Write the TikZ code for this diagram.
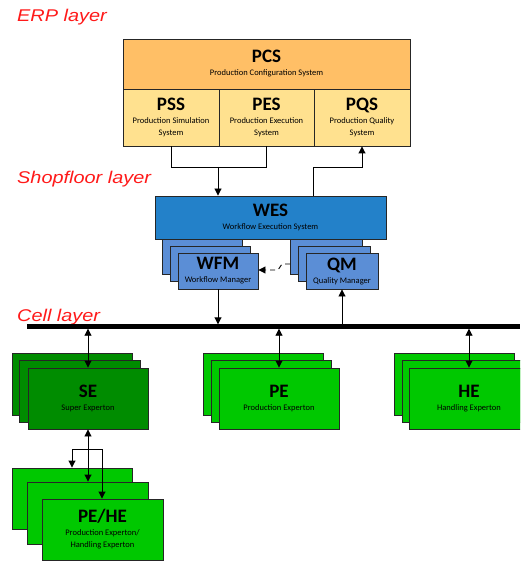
\documentclass[tikz,border=0pt]{standalone}
\usepackage{fontspec}
\setmainfont{Carlito}
\newfontfamily\layerfont[FakeStretch=1.17]{Liberation Sans}
\usetikzlibrary{arrows.meta}
\definecolor{pcsC}{HTML}{FFBF66}
\definecolor{pssC}{HTML}{FFE18F}
\definecolor{wesC}{HTML}{2381C9}
\definecolor{subC}{HTML}{5B8ED6}
\definecolor{seC}{HTML}{008C00}
\definecolor{peC}{HTML}{00C800}
\definecolor{layerC}{HTML}{FF1A1A}
\tikzset{
  box/.style={draw=black!85, line width=0.9pt, inner sep=0pt, align=center, rectangle},
  layerlbl/.style={anchor=base west, inner sep=0pt, text=layerC, font=\layerfont\itshape\fontsize{17}{19}\selectfont},
  conn/.style={draw=black, line width=0.9pt},
  arr/.style={conn, -{Triangle[length=7pt,width=7pt]}},
  darr/.style={conn, {Triangle[length=7pt,width=7pt]}-{Triangle[length=7pt,width=7pt]}},
  bus/.style={draw=black, line width=4.5pt},
}
\newcommand{\ttl}[1]{{\fontsize{19}{20}\selectfont\bfseries #1}}
\newcommand{\sub}[1]{{\fontsize{8.5}{9.5}\selectfont #1}}
\begin{document}
\begin{tikzpicture}[x=1pt, y=-1pt]
\clip (0,0) rectangle (520,561);
\fill[white] (0,0) rectangle (520,561);
% layer labels
\node[layerlbl] (erp) at (17,22) {ERP layer};
\node[layerlbl] (shop) at (17,184) {Shopfloor layer};
\node[layerlbl] (cell) at (17,321) {Cell layer};
% ERP boxes
\node[box, fill=pcsC, minimum width=287pt, minimum height=50pt] (pcs) at (266.5,64) {\ttl{PCS}\\[1pt]\sub{Production Configuration System}};
\node[box, fill=pssC, minimum width=96pt, minimum height=57pt] (pss) at (171,117.5) {\ttl{PSS}\\[1pt]\sub{Production Simulation}\\\sub{System}};
\node[box, fill=pssC, minimum width=95pt, minimum height=57pt] (pes) at (266.5,117.5) {\ttl{PES}\\[1pt]\sub{Production Execution}\\\sub{System}};
\node[box, fill=pssC, minimum width=96pt, minimum height=57pt] (pqs) at (362,117.5) {\ttl{PQS}\\[1pt]\sub{Production Quality}\\\sub{System}};
% WES
\node[box, fill=wesC, minimum width=231pt, minimum height=43pt] (wes) at (270.5,217.5) {\ttl{WES}\\[1pt]\sub{Workflow Execution System}};
% WFM stack
\node[box, fill=subC, minimum width=80pt, minimum height=35pt] (wfm3) at (202,256.5) {};
\node[box, fill=subC, minimum width=80pt, minimum height=35pt] (wfm2) at (210,263.5) {};
\node[box, fill=subC, minimum width=80pt, minimum height=36pt] (wfm) at (218,271) {\ttl{WFM}\\[1pt]\sub{Workflow Manager}};
% QM stack
\node[box, fill=subC, minimum width=72pt, minimum height=35pt] (qm3) at (326,256.5) {};
\node[box, fill=subC, minimum width=72pt, minimum height=35pt] (qm2) at (334,263.5) {};
\node[box, fill=subC, minimum width=72pt, minimum height=36pt] (qm) at (342,271) {\ttl{QM}\\[1pt]\sub{Quality Manager}};
% bus
\coordinate (busL) at (27,326.5);
\coordinate (busR) at (520,326.5);
\draw[bus] (busL) -- (busR);
% SE stack
\node[box, fill=seC, minimum width=120pt, minimum height=62pt] (se3) at (72,384) {};
\node[box, fill=seC, minimum width=121pt, minimum height=62pt] (se2) at (79.5,391) {};
\node[box, fill=seC, minimum width=120pt, minimum height=61pt] (se) at (88,398.5) {\ttl{SE}\\[1pt]\sub{Super Experton}};
% PE stack
\node[box, fill=peC, minimum width=120pt, minimum height=62pt] (pe3) at (263,384) {};
\node[box, fill=peC, minimum width=120pt, minimum height=62pt] (pe2) at (271,391) {};
\node[box, fill=peC, minimum width=120pt, minimum height=61pt] (pe) at (279,398.5) {\ttl{PE}\\[1pt]\sub{Production Experton}};
% HE stack
\node[box, fill=peC, minimum width=120pt, minimum height=62pt] (he3) at (454,384) {};
\node[box, fill=peC, minimum width=120pt, minimum height=62pt] (he2) at (462,391) {};
\node[box, fill=peC, minimum width=120pt, minimum height=61pt] (he) at (469,398.5) {\ttl{HE}\\[1pt]\sub{Handling Experton}};
% PE/HE stack
\node[box, fill=peC, minimum width=120pt, minimum height=61pt] (ph3) at (72,498.5) {};
\node[box, fill=peC, minimum width=121pt, minimum height=62pt] (ph2) at (87.5,513) {};
\node[box, fill=peC, minimum width=121pt, minimum height=61pt] (ph) at (102.5,529.5) {\ttl{PE/HE}\\[1pt]\sub{Production Experton/}\\\sub{Handling Experton}};
% ERP connectors
\coordinate (j1) at (218,167);
\draw[conn] (pss.south) |- (j1);
\draw[conn] (pes.south) |- (j1);
\draw[arr] (j1) -- (j1 |- wes.north);
\coordinate (q1) at (313,196);
\coordinate (q2) at (362,167);
\draw[arr] (q1) |- (q2) -- (pqs.south);
% dashed
\coordinate (d1) at (290,264);
\coordinate (d2) at (282,264);
\coordinate (d3) at (278,270);
\draw[arr, dashed, dash pattern=on 5pt off 4pt] (d1) -- (d2) -- (d3) -- (wfm.east |- d3);
% to bus
\draw[arr] (wfm.south) -- (wfm.south |- 0,324.3);
\draw[arr] (qm.south |- 0,324.3) -- (qm.south);
\draw[darr] (se.north |- 0,328.7) -- (se.north);
\draw[darr] (pe.north |- 0,328.7) -- (pe.north);
\draw[darr] (he.north |- 0,328.7) -- (he.north);
% SE to PE/HE
\draw[darr] (se.south) -- (se.south |- ph2.north);
\coordinate (b1) at (72,449);
\coordinate (b2) at (102,449);
\draw[arr] (b2) -- (b1) -- (b1 |- ph3.north);
\draw[arr] (b1) -- (b2) -- (b2 |- ph.north);
\end{tikzpicture}
\end{document}
